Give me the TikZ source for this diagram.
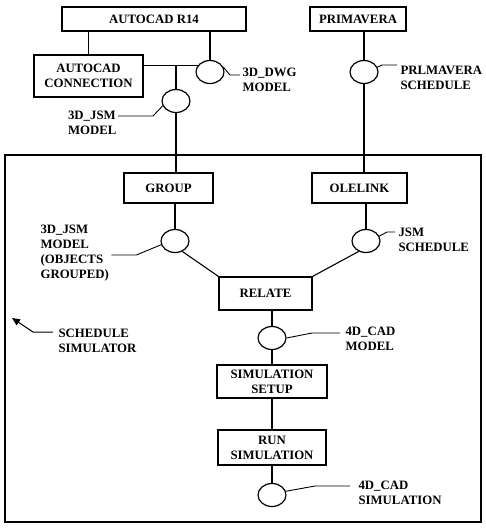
\documentclass[tikz,border=0pt]{standalone}
\usepackage{fontspec}
\setmainfont{Liberation Serif}
\usetikzlibrary{positioning,arrows.meta,shapes.geometric}

\begin{document}
\begin{tikzpicture}[
  x=1pt,y=-1pt,line width=1.1pt,
  every node/.style={font=\fontsize{12.8}{15}\selectfont\bfseries},
  box/.style={draw,line width=1.2pt,inner sep=1pt,align=center},
  port/.style={draw,ellipse,line width=1.2pt,minimum width=28pt,minimum height=23pt,inner sep=0pt},
  lab/.style={align=left,inner sep=0pt}
]
  \useasboundingbox (0,0) rectangle (486,531);
  % the schedule simulator frame
  \draw (5,155) rectangle (481,522);

  % programs
  \node[box,minimum width=184pt,minimum height=24pt] (acad) at (154,19) {AUTOCAD R14};
  \node[box,minimum width=96pt,minimum height=24pt] (prima) at (358,19) {PRIMAVERA};
  \node[box,minimum width=109pt,minimum height=42pt] (conn) at (88.5,76) {AUTOCAD\\CONNECTION};
  \node[box,minimum width=89pt,minimum height=30pt] (group) at (168.5,188) {GROUP};
  \node[box,minimum width=95pt,minimum height=30pt] (ole) at (359.5,188) {OLELINK};
  \node[box,minimum width=93pt,minimum height=33pt] (relate) at (265.5,293.5) {RELATE};
  \node[box,minimum width=110pt,minimum height=33pt] (setup) at (272,381.5) {SIMULATION\\SETUP};
  \node[box,minimum width=108pt,minimum height=35pt] (run) at (272,447.5) {RUN\\SIMULATION};

  % data
  \node[port] (dwg) at (210,72) {};
  \node[port] (jsm) at (176,101) {};
  \node[port] (pcirc) at (364,72) {};
  \node[port] (gcirc) at (175,241) {};
  \node[port] (ocirc) at (366,241) {};
  \node[port] (mcirc) at (272,338) {};
  \node[port] (scirc) at (272,495) {};

  % flows
  \draw (conn.north |- acad.south) -- (conn.north);
  \draw (acad.south -| dwg.north) -- (dwg.north);
  \draw (conn.east |- dwg.150) -- (dwg.150);
  \draw (jsm.north |- dwg.150) -- (jsm.north);
  \draw (jsm.south) -- (jsm.south |- group.north);
  \draw (prima.south -| pcirc.north) -- (pcirc.north);
  \draw (pcirc.south) -- (pcirc.south |- ole.north);
  \draw (group.south -| gcirc.north) -- (gcirc.north);
  \draw (ole.south -| ocirc.north) -- (ocirc.north);
  \draw (gcirc.-55) -- (relate.north west);
  \draw (ocirc.-125) -- (relate.north east);
  \draw (relate.south -| mcirc.north) -- (mcirc.north);
  \draw (mcirc.south) -- (setup.north);
  \draw (setup.south) -- (run.north);
  \draw (run.south) -- (scirc.north);

  % labels
  \node[lab,anchor=west] (dwglab) at (242,79.5) {3D\_DWG\\MODEL};
  \node[lab,anchor=west] (plab) at (400,77.5) {PRLMAVERA\\SCHEDULE};
  \node[lab,anchor=east] (jlab) at (117,122.5) {3D\_JSM\\MODEL};
  \node[lab,anchor=west] (glab) at (40,253) {3D\_JSM\\MODEL\\(OBJECTS\\GROUPED)};
  \node[lab,anchor=west] (slab) at (398,240) {JSM\\SCHEDULE};
  \node[lab,anchor=west] (mlab) at (345,339) {4D\_CAD\\MODEL};
  \node[lab,anchor=west] (simlab) at (58,341) {SCHEDULE\\SIMULATOR};
  \node[lab,anchor=west] (clab) at (358,493) {4D\_CAD\\SIMULATION};
  \coordinate (simtip) at (12,318);

  % leaders
  \draw[line width=0.9pt] (dwg.20) -- ([xshift=-12pt,yshift=4.5pt]dwglab.west) -- ([xshift=-2pt,yshift=4.5pt]dwglab.west);
  \draw[line width=0.9pt] (pcirc.20) -- ([xshift=-18pt,yshift=12.5pt]plab.west) -- ([xshift=-3pt,yshift=12.5pt]plab.west);
  \draw[line width=0.9pt] (jsm.200) -- ([xshift=36pt,yshift=6.5pt]jlab.east) -- ([xshift=1pt,yshift=6.5pt]jlab.east);
  \draw[line width=0.9pt] (gcirc.195) -- ([xshift=27pt,yshift=-2pt]glab.east) -- ([xshift=2pt,yshift=-2pt]glab.east);
  \draw[line width=0.9pt] (ocirc.20) -- ([xshift=-11pt,yshift=8pt]slab.west) -- ([xshift=-3pt,yshift=8pt]slab.west);
  \draw[line width=0.9pt] (mcirc.0) -- ([xshift=-33pt,yshift=6pt]mlab.west) -- ([xshift=-5pt,yshift=6pt]mlab.west);
  \draw[line width=0.9pt] (scirc.15) -- ([xshift=-43pt,yshift=7pt]clab.west) -- ([xshift=-8pt,yshift=7pt]clab.west);
  \draw[line width=1pt,-{Triangle[length=8pt,width=7pt]}] ([xshift=-5pt,yshift=9pt]simlab.west) -- ([xshift=-25pt,yshift=9pt]simlab.west) -- (simtip);
\end{tikzpicture}
\end{document}
